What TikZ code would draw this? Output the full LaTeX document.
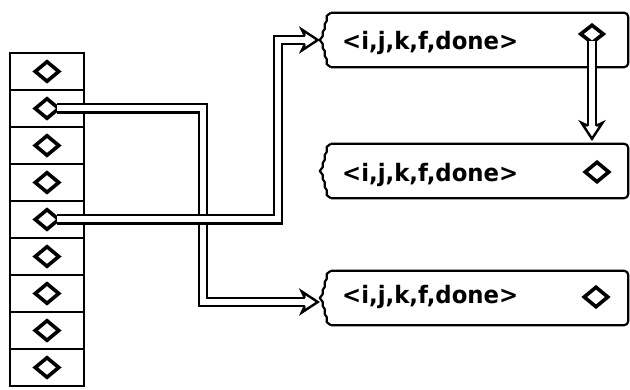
\documentclass[tikz,border=0pt]{standalone}
\usepackage{fontspec}
\setmainfont{DejaVu Sans}
\newfontfamily\tuplefont[FakeStretch=0.95]{DejaVu Sans}
\usetikzlibrary{shapes.geometric,calc}

\tikzset{
  cellbox/.style={draw, line width=2pt, minimum width=74pt, minimum height=37pt, inner sep=0pt},
  ptr/.style={diamond, draw, line width=3.6pt, minimum width=25pt, minimum height=21pt, inner sep=0pt},
  recbox/.style={minimum width=308pt, minimum height=54pt, inner sep=0pt},
  tuple/.style={anchor=base west, inner sep=0pt, font=\tuplefont\bfseries\fontsize{24pt}{24pt}\selectfont},
  dbl/.style={draw, line width=2.4pt, double=white, double distance=6pt, line join=miter},
  link/.style={dbl, shorten >=13pt},
  headline/.style={draw, fill=white, line width=2.4pt, line join=miter},
  edge/.style={line width=2.2pt, line join=round, rounded corners=4pt},
  % hollow heads for the double links, tip at the pic origin
  headright/.pic={\path[headline] (-13,-4.2) -- (-16,-10.5) -- (0,0) -- (-16,10.5) -- (-13,4.2);},
  headdown/.pic={\path[headline] (-4.2,-13) -- (-10.5,-16) -- (0,0) -- (10.5,-16) -- (4.2,-13);},
}

% outline of a record box: straight top, right and bottom, wavy left edge
\newcommand{\recoutline}[1]{%
  \draw[edge] ($(#1.north west)+(11,0)$) -- (#1.north east) -- (#1.south east) -- ($(#1.south west)+(11,0)$);
  \draw[line width=2.2pt, line join=round]
    ($(#1.north west)+(11,0)$) -- ++(-4,3) -- ++(0,5) -- ++(-2,3) -- ++(0,5) -- ++(-2,3)
    -- ($(#1.west)+(3,-4)$) -- (#1.west) -- ($(#1.west)+(3,4)$)
    -- ($(#1.south west)+(3,-19)$) -- ++(2,3) -- ++(0,5) -- ++(2,3) -- ++(0,5) -- ++(4,3);
}

\begin{document}
\begin{tikzpicture}[x=1pt,y=-1pt]
  \useasboundingbox (0,0) rectangle (630,390);

  % the pointer array
  \foreach \i in {1,...,9} {
    \node[cellbox] (cell\i) at (47,{53+37*(\i-0.5)}) {};
    \node[ptr] (c\i) at (47,{53+37*(\i-0.5)}) {};
  }

  % the three records
  \node[recbox] (r1) at (474,40) {};
  \node[recbox] (r2) at (474,171) {};
  \node[recbox] (r3) at (474,298) {};
  \recoutline{r1}
  \recoutline{r2}
  \recoutline{r3}
  \node[tuple] (t1) at (342,50) {<i,j,k,f,done>};
  \node[tuple] (t2) at (342,182) {<i,j,k,f,done>};
  \node[tuple] (t3) at (342,304) {<i,j,k,f,done>};
  \node[ptr, minimum width=24pt, minimum height=19pt] (d1) at (592,34) {};
  \node[ptr] (d2) at (597,172) {};
  \node[ptr] (d3) at (596,297) {};

  % links from the array cells to the records
  \coordinate (ka) at (203,302);
  \coordinate (kb) at (278,40);
  \coordinate (tipA) at ($(r3.west |- ka)+(-2,0)$);
  \coordinate (tipB) at ($(r1.west |- kb)+(-2,0)$);
  \draw[link] ($(c2.east)+(-4,0)$) -| (ka) -- (tipA);
  \pic at (tipA) {headright};
  \draw[link] ($(c5.east)+(-4,0)$) -| (kb) -- (tipB);
  \pic at (tipB) {headright};

  % link from the first record to the second
  \coordinate (tipC) at ($(r2.north -| d1)+(0,-5)$);
  \draw[link] ($(d1.south)+(0,-4)$) -- (tipC);
  \pic at (tipC) {headdown};
\end{tikzpicture}
\end{document}
